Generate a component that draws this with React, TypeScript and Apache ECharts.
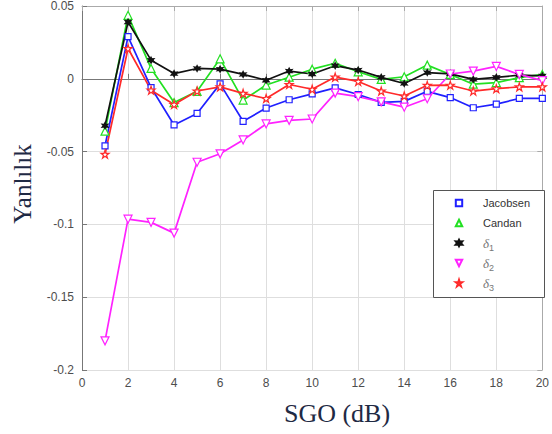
import React, { useEffect, useRef } from "react";
import * as echarts from "echarts";

const snr = [1, 2, 3, 4, 5, 6, 7, 8, 9, 10, 11, 12, 13, 14, 15, 16, 17, 18, 19, 20];
const jacobsen = [-0.046, 0.029, -0.006, -0.0317, -0.0238, -0.0035, -0.0292, -0.0201, -0.0144, -0.0104, -0.0062, -0.0108, -0.0162, -0.0155, -0.0086, -0.0129, -0.0199, -0.0174, -0.0135, -0.0135];
const candan = [-0.036, 0.0436, 0.0071, -0.0163, -0.0086, 0.0137, -0.0146, -0.0043, 0.0011, 0.0066, 0.0107, 0.0048, -0.0004, 0.0014, 0.0094, 0.003, -0.0037, -0.0026, 0.0008, 0.003];
const delta1 = [-0.0322, 0.039, 0.0128, 0.0036, 0.0071, 0.0066, 0.003, -0.001, 0.0053, 0.0033, 0.009, 0.006, 0.001, -0.0032, 0.0043, 0.0034, -0.0004, 0.001, 0.0025, 0.002];
const delta2 = [-0.18, -0.0964, -0.0986, -0.106, -0.0573, -0.0515, -0.042, -0.031, -0.0285, -0.0276, -0.0098, -0.0123, -0.0158, -0.0195, -0.0137, 0.0033, 0.0053, 0.0085, 0.003, -0.0013];
const delta3 = [-0.0518, 0.0208, -0.0078, -0.0176, -0.0084, -0.0055, -0.01, -0.0135, -0.0039, -0.0072, 0.0012, -0.0018, -0.0084, -0.0118, -0.0045, -0.0044, -0.0084, -0.0068, -0.0055, -0.0055];
const seriesNames = ["Jacobsen", "Candan", "δ1", "δ2", "δ3"];
const xTicks = { min: 0, max: 20, interval: 2 };
const yTicks = { min: -0.2, max: 0.05, interval: 0.05 };

const PENTAGRAM = "path://M10,0 L12.25,6.91 L19.51,6.91 L13.63,11.18 L15.88,18.09 L10,13.82 L4.12,18.09 L6.37,11.18 L0.49,6.91 L7.75,6.91 Z";
const HEXAGRAM = "path://M10,0 L12.5,5.67 L18.66,5 L15,10 L18.66,15 L12.5,14.33 L10,20 L7.5,14.33 L1.34,15 L5,10 L1.34,5 L7.5,5.67 Z";
const DOWN_TRI = "path://M0,0 L20,0 L10,17.3 Z";

export default function App() {
  const ref = useRef<HTMLDivElement>(null);
  useEffect(() => {
    if (!ref.current) return;
    const chart = echarts.init(ref.current, undefined, { renderer: "svg" });
    const mk = (name: string, data: number[], color: string, symbol: string, size: number, filled: boolean) => ({
      name,
      type: "line",
      data: snr.map((x, i) => [x, data[i]]),
      symbol,
      symbolSize: size,
      showAllSymbol: true,
      lineStyle: { color, width: 1.7 },
      itemStyle: { color: filled ? color : "#ffffff", borderColor: color, borderWidth: 1.2 },
      emphasis: { disabled: true },
    });
    const fmtY = (v: number) => String(parseFloat(v.toFixed(2)));
    chart.setOption({
      animation: false,
      backgroundColor: "#ffffff",
      grid: { left: 82, right: 7, top: 5, bottom: 64, containLabel: false },
      xAxis: [
        {
          type: "value", ...xTicks,
          axisLine: { show: true, lineStyle: { color: "#777", width: 1 } },
          axisTick: { show: true, inside: true, length: 5, lineStyle: { color: "#777" } },
          axisLabel: { color: "#4d4d4d", fontSize: 12, fontFamily: "Arial, 'Liberation Sans', sans-serif", margin: 7 },
          splitLine: { show: true, lineStyle: { color: "#dedede", width: 1 } },
        },
        {
          type: "value", ...xTicks, position: "top",
          axisLine: { show: true, onZero: false, lineStyle: { color: "#aaa", width: 1 } },
          axisTick: { show: true, inside: true, length: 5, lineStyle: { color: "#aaa" } },
          axisLabel: { show: false },
          splitLine: { show: false },
        },
      ],
      yAxis: [
        {
          type: "value", ...yTicks,
          axisLine: { show: true, onZero: false, lineStyle: { color: "#777", width: 1 } },
          axisTick: { show: true, inside: true, length: 5, lineStyle: { color: "#777" } },
          axisLabel: { color: "#4d4d4d", fontSize: 12, fontFamily: "Arial, 'Liberation Sans', sans-serif", margin: 8, formatter: fmtY },
          splitLine: { show: true, lineStyle: { color: "#dedede", width: 1 } },
        },
        {
          type: "value", ...yTicks, position: "right",
          axisLine: { show: true, onZero: false, lineStyle: { color: "#aaa", width: 1 } },
          axisTick: { show: true, inside: true, length: 5, lineStyle: { color: "#aaa" } },
          axisLabel: { show: false },
          splitLine: { show: false },
        },
      ],
      legend: {
        left: 440,
        top: 194,
        orient: "vertical",
        padding: 0,
        itemGap: 2,
        itemWidth: 38,
        itemHeight: 8,
        z: 10,
        data: seriesNames,
        lineStyle: { width: 0, opacity: 0 },
        textStyle: {
          color: "#333",
          fontSize: 11,
          lineHeight: 18,
          fontFamily: "Arial, 'Liberation Sans', sans-serif",
          rich: {
            d: { fontSize: 13, lineHeight: 18, fontStyle: "italic", fontFamily: "'Liberation Serif', serif", color: "#777", verticalAlign: "middle" },
            s: { fontSize: 9, lineHeight: 9, color: "#777", fontFamily: "Arial, 'Liberation Sans', sans-serif", verticalAlign: "bottom" },
          },
        },
        formatter: (name: string) => (name.startsWith("δ") ? `{d|δ}{s|${name.slice(1)}}` : name),
      },
      graphic: [
        { type: "rect", z: 9, shape: { x: 433.5, y: 190.5, width: 111, height: 107 }, style: { fill: "#ffffff", stroke: "#555", lineWidth: 1 } },
        { type: "text", x: 22, y: 184, rotation: Math.PI / 2, style: { text: "Yanlılık", fill: "#1f2a44", fontSize: 25, fontFamily: "'Liberation Serif', 'Times New Roman', serif", align: "center", verticalAlign: "middle" } },
        { type: "text", x: 337, y: 413, style: { text: "SGO (dB)", fill: "#1f2a44", fontSize: 26, fontFamily: "'Liberation Serif', 'Times New Roman', serif", align: "center", verticalAlign: "middle" } },
      ],
      series: [
        mk(seriesNames[0], jacobsen, "#2020ff", "rect", 6, false),
        mk(seriesNames[1], candan, "#22e022", "triangle", 8, false),
        mk(seriesNames[2], delta1, "#111111", HEXAGRAM, 6, true),
        mk(seriesNames[3], delta2, "#ff22ff", DOWN_TRI, 8, false),
        mk(seriesNames[4], delta3, "#ff2a2a", PENTAGRAM, 8, false),
      ],
    });
    return () => chart.dispose();
  }, []);
  return <div ref={ref} style={{ width: 552, height: 434, position: "absolute", left: 0, top: 0 }} />;
}
